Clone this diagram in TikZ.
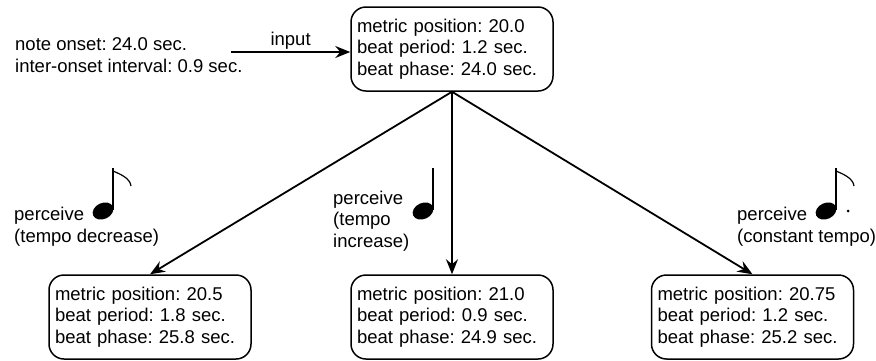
\documentclass[tikz,border=0pt]{standalone}
\usepackage{fontspec}
\setmainfont{Liberation Sans}
\usetikzlibrary{arrows.meta}
\begin{document}
\begin{tikzpicture}[x=1pt,y=-1pt,
  every node/.style={font=\fontsize{18.5}{21.5}\selectfont\frenchspacing},
  state/.style={draw,line width=1.5pt,rounded corners=15pt,minimum width=202pt,minimum height=84pt,
    text width=190pt,inner xsep=6pt,align=left},
  lbl/.style={inner sep=0pt,align=left,anchor=base west},
  conn/.style={line width=1.8pt,-{Stealth[length=15pt,width=12pt,inset=5pt]}},
  stem/.style={line width=1.8pt},
  flag/.style={line width=1.2pt}]
\useasboundingbox (0,0) rectangle (876,360);
\node[state] (top) at (452,49) {metric position: 20.0\\beat period: 1.2 sec.\\beat phase: 24.0 sec.};
\node[state] (bl) at (150,317) {metric position: 20.5\\beat period: 1.8 sec.\\beat phase: 25.8 sec.};
\node[state] (bm) at (452,317) {metric position: 21.0\\beat period: 0.9 sec.\\beat phase: 24.9 sec.};
\node[state] (br) at (752.5,317) {metric position: 20.75\\beat period: 1.2 sec.\\beat phase: 25.2 sec.};
% anchor base = baseline of the last line
\node[lbl] (onset) at (15,72) {note onset: 24.0 sec.\\inter-onset interval: 0.9 sec.};
\coordinate (inp) at (231,52);
\draw[conn] (inp) -- (top.west |- inp) node[midway,above=2pt,inner sep=0pt] (inlbl) {input};
\draw[conn] (top.south) -- (bl.north);
\draw[conn] (top.south) -- (bm.north);
\draw[conn] (top.south) -- (br.north);
\node[lbl] (pl) at (14,242) {perceive\\(tempo decrease)};
\node[lbl] (pm) at (333,247) {perceive\\(tempo\\increase)};
\node[lbl] (pr) at (737,242) {perceive\\(constant tempo)};
% notes
\fill[rotate around={25:(103,211)}] (103,211) ellipse (10.8 and 8);
\draw[stem] (113,168) -- (113,210);
\draw[flag] (113,171) .. controls (120,174) and (130,178) .. (131,186);
\fill[rotate around={25:(423,211)}] (423,211) ellipse (10.8 and 8);
\draw[stem] (433,168) -- (433,210);
\fill[rotate around={25:(826,211)}] (826,211) ellipse (10.8 and 8);
\draw[stem] (836,168) -- (836,210);
\draw[flag] (836,171) .. controls (843,174) and (853,178) .. (854,186);
\fill (848,211) circle (1.5);
\end{tikzpicture}
\end{document}
